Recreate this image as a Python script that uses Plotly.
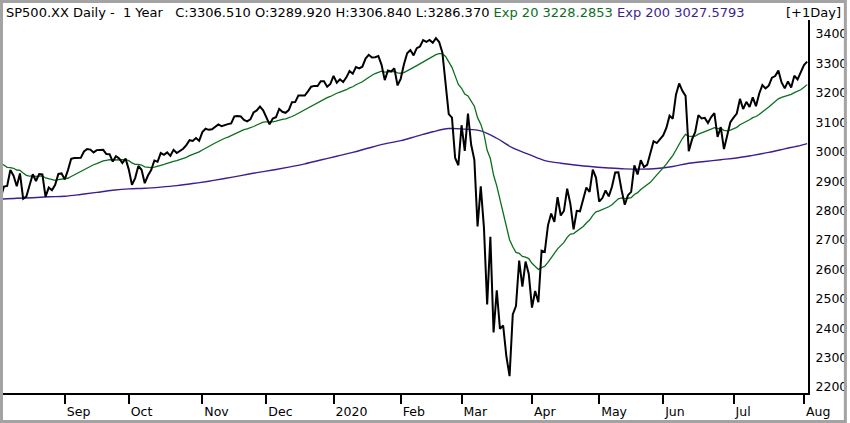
import pandas as pd
import plotly.graph_objects as go

# trading days (Aug 5 2019 .. Aug 4 2020), weekends and NYSE holidays removed
holidays = ["2019-09-02", "2019-11-28", "2019-12-25", "2020-01-01", "2020-01-20",
            "2020-02-17", "2020-04-10", "2020-05-25", "2020-07-03"]
days = [d.strftime("%Y-%m-%d") for d in pd.bdate_range("2019-08-05", "2020-08-04")
        if d.strftime("%Y-%m-%d") not in holidays]

# daily close
close = [
    2844.74, 2881.77, 2883.98, 2938.09, 2918.65, 2882.70, 2926.32, 2840.60, 2847.60, 2888.68,
    2923.65, 2900.51, 2924.43, 2922.95, 2847.11, 2878.38, 2869.16, 2887.94, 2924.58, 2926.46,
    2906.27, 2937.78, 2976.00, 2978.71, 2978.43, 2979.39, 3000.93, 3009.57, 3007.39, 2997.96,
    3005.70, 3006.73, 3006.79, 2992.07, 2991.78, 2966.60, 2984.87, 2977.62, 2961.79, 2976.74,
    2940.25, 2887.61, 2910.63, 2952.01, 2938.79, 2893.06, 2919.40, 2938.13, 2970.27, 2966.15,
    2995.68, 2989.69, 2997.95, 2986.20, 3006.72, 2995.99, 3004.52, 3010.29, 3022.55, 3039.42,
    3036.89, 3046.77, 3037.56, 3066.91, 3078.27, 3074.62, 3076.78, 3085.18, 3093.08, 3087.01,
    3091.84, 3094.04, 3096.63, 3120.46, 3122.03, 3120.18, 3108.46, 3103.54, 3110.29, 3133.64,
    3140.52, 3153.63, 3140.98, 3113.87, 3093.20, 3112.76, 3117.43, 3145.91, 3135.96, 3132.52,
    3141.63, 3168.57, 3168.80, 3191.45, 3192.52, 3191.14, 3205.37, 3221.22, 3224.01, 3223.38,
    3239.91, 3240.02, 3221.29, 3230.78, 3257.85, 3234.85, 3246.28, 3237.18, 3253.05, 3274.70,
    3265.35, 3288.13, 3283.15, 3289.29, 3316.81, 3329.62, 3320.79, 3321.75, 3325.54, 3295.47,
    3243.63, 3276.24, 3273.40, 3283.66, 3225.52, 3248.92, 3297.59, 3334.69, 3345.78, 3327.71,
    3352.09, 3357.75, 3379.45, 3373.94, 3380.16, 3370.29, 3386.15, 3373.23, 3337.75, 3225.89,
    3128.21, 3116.39, 2978.76, 2954.22, 3090.23, 3003.37, 3130.12, 3023.94, 2972.37, 2746.56,
    2882.23, 2741.38, 2480.64, 2711.02, 2386.13, 2529.19, 2398.10, 2409.39, 2304.92, 2237.40,
    2447.33, 2475.56, 2630.07, 2541.47, 2626.65, 2584.59, 2470.50, 2526.90, 2488.65, 2663.68,
    2659.41, 2749.98, 2789.82, 2761.63, 2846.06, 2783.36, 2799.55, 2874.56, 2823.16, 2736.56,
    2799.31, 2797.80, 2836.74, 2878.48, 2863.39, 2939.51, 2912.43, 2830.71, 2842.74, 2868.44,
    2848.42, 2881.19, 2929.80, 2930.32, 2870.12, 2820.00, 2852.50, 2863.70, 2953.91, 2922.94,
    2971.61, 2948.51, 2955.45, 2991.77, 3036.13, 3029.73, 3044.31, 3055.73, 3080.82, 3122.87,
    3112.35, 3193.93, 3232.39, 3207.18, 3190.14, 3002.10, 3041.31, 3066.59, 3124.74, 3113.49,
    3115.34, 3097.74, 3117.86, 3131.29, 3050.33, 3083.76, 3009.05, 3053.24, 3100.29, 3115.86,
    3130.01, 3179.72, 3145.32, 3169.94, 3152.05, 3185.04, 3155.22, 3197.52, 3226.56, 3215.57,
    3224.73, 3251.84, 3257.30, 3276.02, 3235.66, 3215.63, 3239.41, 3218.44, 3258.44, 3246.22,
    3271.12, 3294.61, 3306.51,
]

# Exp 20 (daily)
ema20 = [
    2962, 2954, 2947, 2946, 2944, 2938, 2937, 2928, 2920, 2917,
    2918, 2916, 2917, 2918, 2911, 2908, 2904, 2903, 2905, 2907,
    2907, 2910, 2916, 2922, 2927, 2932, 2939, 2945, 2951, 2956,
    2960, 2965, 2969, 2971, 2973, 2972, 2973, 2974, 2973, 2973,
    2970, 2962, 2957, 2957, 2955, 2949, 2947, 2946, 2948, 2950,
    2954, 2957, 2961, 2963, 2967, 2970, 2973, 2977, 2981, 2987,
    2991, 2996, 3000, 3006, 3013, 3019, 3024, 3030, 3036, 3041,
    3046, 3050, 3055, 3061, 3067, 3072, 3075, 3078, 3081, 3086,
    3091, 3097, 3101, 3102, 3101, 3102, 3104, 3108, 3110, 3112,
    3115, 3120, 3125, 3131, 3137, 3142, 3148, 3155, 3161, 3167,
    3174, 3180, 3184, 3188, 3195, 3199, 3203, 3206, 3211, 3217,
    3221, 3228, 3233, 3238, 3246, 3254, 3260, 3266, 3271, 3274,
    3271, 3271, 3272, 3273, 3268, 3267, 3269, 3276, 3282, 3287,
    3293, 3299, 3307, 3313, 3319, 3324, 3330, 3334, 3334, 3324,
    3305, 3287, 3258, 3229, 3216, 3196, 3190, 3174, 3155, 3116,
    3094, 3060, 3005, 2977, 2921, 2884, 2838, 2797, 2750, 2701,
    2677, 2658, 2655, 2644, 2642, 2637, 2621, 2612, 2600, 2606,
    2611, 2624, 2640, 2652, 2670, 2681, 2692, 2709, 2720, 2722,
    2729, 2736, 2746, 2758, 2768, 2784, 2796, 2799, 2803, 2809,
    2813, 2820, 2830, 2840, 2843, 2841, 2842, 2844, 2855, 2861,
    2872, 2879, 2886, 2896, 2909, 2921, 2933, 2945, 2958, 2973,
    2987, 3006, 3028, 3045, 3059, 3053, 3052, 3053, 3060, 3065,
    3070, 3073, 3077, 3082, 3079, 3080, 3073, 3071, 3074, 3078,
    3083, 3092, 3097, 3104, 3109, 3116, 3120, 3127, 3137, 3144,
    3152, 3161, 3170, 3180, 3185, 3188, 3193, 3195, 3201, 3205,
    3211, 3219, 3228.29,
]

# Exp 200, read every 5th trading day (+ last day)
ema200_days = days[::5] + [days[-1]]
ema200 = [
    2839, 2842, 2844, 2847, 2849, 2855, 2862, 2869, 2874, 2876,
    2880, 2885, 2892, 2900, 2909, 2919, 2929, 2938, 2948, 2959,
    2972, 2985, 2998, 3013, 3027, 3038, 3053, 3068, 3079, 3077,
    3071, 3046, 3013, 2991, 2970, 2961, 2954, 2949, 2945, 2942,
    2941, 2943, 2950, 2961, 2967, 2973, 2979, 2988, 2998, 3010,
    3022, 3027.58,
]

month_days = ["2019-09-03", "2019-10-01", "2019-11-01", "2019-12-02", "2020-01-02", "2020-02-03",
              "2020-03-02", "2020-04-01", "2020-05-01", "2020-06-01", "2020-07-01", "2020-08-03"]
month_labels = ["Sep", "Oct", "Nov", "Dec", "2020", "Feb", "Mar", "Apr", "May", "Jun", "Jul", "Aug"]
price_ticks = list(range(2200, 3401, 100))

green = "#0b6e1c"
purple = "#3d1f8f"
font = "DejaVu Sans"

fig = go.Figure()
fig.add_trace(go.Scatter(x=ema200_days, y=ema200, mode="lines", line_shape="spline",
                         line=dict(color=purple, width=1.4), name="Exp 200"))
fig.add_trace(go.Scatter(x=days, y=ema20, mode="lines",
                         line=dict(color=green, width=1.3), name="Exp 20"))
fig.add_trace(go.Scatter(x=days, y=close, mode="lines",
                         line=dict(color="black", width=2), name="Close"))

nb = "\u00a0"
header = ("SP500.XX Daily -" + nb * 2 + "1 Year" + nb * 3 +
          "C:3306.510 O:3289.920 H:3306.840 L:3286.370 "
          f"<span style='color:{green}'>Exp 20 3228.2853</span> "
          f"<span style='color:{purple}'>Exp 200 3027.5793</span>")

fig.update_layout(
    width=850, height=423,
    margin=dict(l=3, r=39, t=20, b=30),
    paper_bgcolor="white", plot_bgcolor="white",
    showlegend=False,
    font=dict(family=font, size=12.5, color="black"),
    xaxis=dict(type="category", categoryorder="array", categoryarray=days,
               range=[0.7, 252.26], showgrid=False, zeroline=False,
               showline=True, linecolor="black", linewidth=2,
               tickvals=month_days, ticktext=month_labels,
               ticks="outside", ticklen=9, tickwidth=2, tickcolor="black",
               ticklabelposition="outside right", ticklabelstandoff=6),
    yaxis=dict(side="right", range=[2180, 3448], showgrid=False, zeroline=False,
               showline=True, linecolor="black", linewidth=2,
               tickvals=price_ticks, ticks="", ticklabelstandoff=3),
    annotations=[
        dict(text=header, xref="paper", yref="paper", x=1 / 808, y=380.5 / 373,
             xanchor="left", yanchor="middle", showarrow=False, font=dict(size=13)),
        dict(text="[+1Day]", xref="paper", yref="paper", x=843 / 808, y=380.5 / 373,
             xanchor="right", yanchor="middle", showarrow=False, font=dict(size=13)),
    ],
    shapes=[dict(type="rect", xref="paper", yref="paper",
                 x0=-1.5 / 808, x1=845.5 / 808, y0=-28.5 / 373, y1=391.5 / 373,
                 line=dict(color="#a3a3a3", width=3))],
)

# page body has a default 8px margin; drop it so the figure fills the window
fig.write_html("out.html", config={"displayModeBar": False},
               post_script="document.body.style.margin='0px';")
